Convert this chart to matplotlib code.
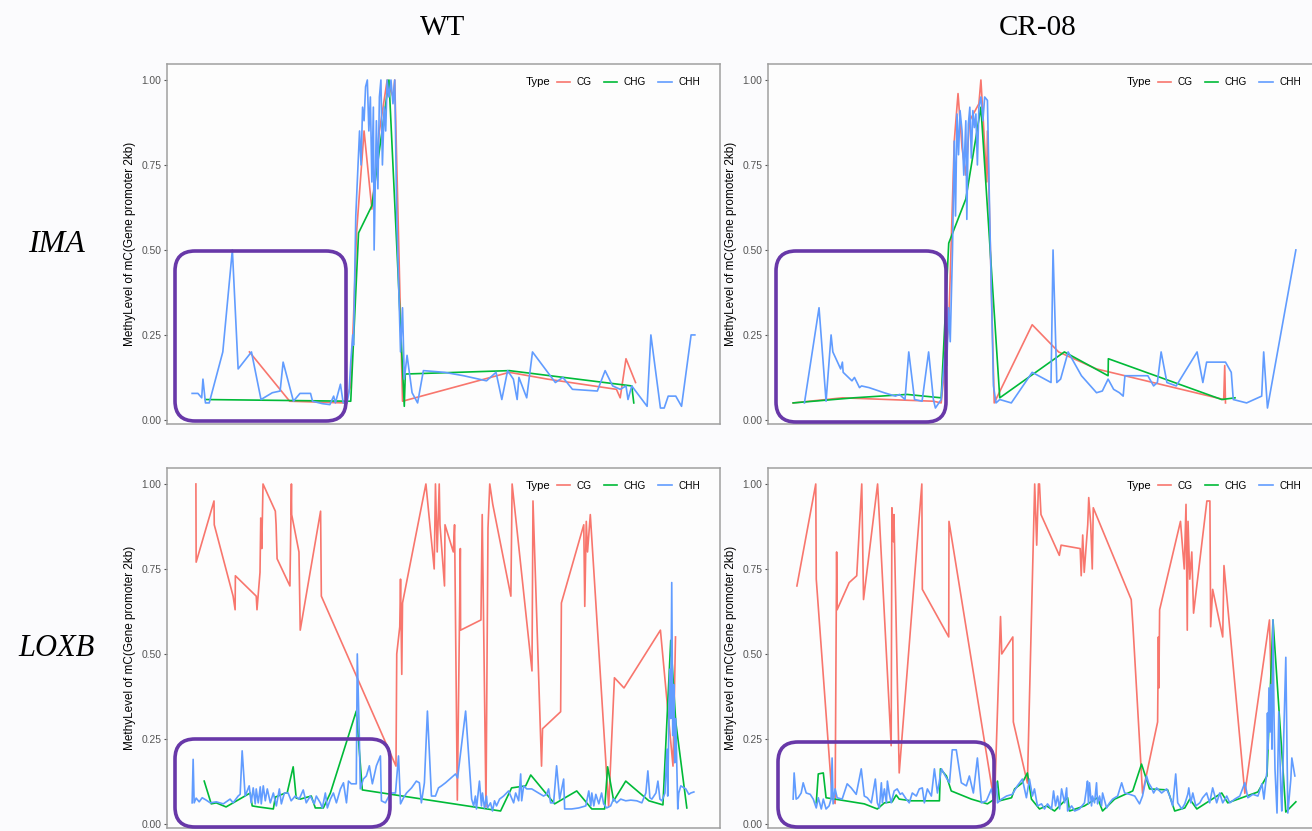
import matplotlib.pyplot as plt
from matplotlib.lines import Line2D
from matplotlib.patches import FancyBboxPatch

plt.rcParams['font.family'] = ['Liberation Sans', 'DejaVu Sans']

# methylation type colours (ggplot defaults)
types = ['CG', 'CHG', 'CHH']
type_colors = ['#F8766D', '#00BA38', '#619CFF']

# ---------------- IMA, WT ----------------
ima_wt_cg_x = [228, 388, 608, 631, 642, 654, 684, 715, 745, 776, 799, 806, 837, 1262, 1414, 1688, 1703, 1726, 1764]
ima_wt_cg_y = [0.20, 0.055, 0.05, 0.10, 0.30, 0.55, 0.85, 0.62, 0.85, 1.0, 0.95, 1.0, 0.055, 0.14, 0.12, 0.09, 0.065, 0.18, 0.11]
ima_wt_chg_x = [53, 631, 662, 715, 783, 844, 848, 1262, 1749, 1757]
ima_wt_chg_y = [0.06, 0.055, 0.55, 0.63, 1.0, 0.04, 0.135, 0.145, 0.10, 0.05]
ima_wt_chh_x = [0, 23, 38, 43, 53, 68, 122, 160, 183, 236, 274, 319, 350, 362, 403, 429, 471, 479, 517, 548,
                563, 570, 590, 601, 616, 624, 631, 639, 642, 651, 666, 672, 678, 684, 690, 697, 703, 709, 715, 721,
                724, 733, 739, 745, 751, 757, 764, 770, 776, 783, 791, 799, 806, 814, 829, 837, 844, 855, 875, 897,
                920, 1004, 1080, 1171, 1209, 1232, 1255, 1278, 1293, 1300, 1331, 1354, 1445, 1475, 1513, 1612, 1643, 1673, 1703, 1726,
                1734, 1749, 1810, 1825, 1863, 1878, 1894, 1924, 1947, 1985, 2000]
ima_wt_chh_y = [0.078, 0.078, 0.065, 0.12, 0.05, 0.05, 0.20, 0.50, 0.15, 0.20, 0.06, 0.08, 0.085, 0.17, 0.055, 0.078, 0.078, 0.055, 0.048, 0.045,
                0.07, 0.05, 0.105, 0.05, 0.05, 0.08, 0.17, 0.25, 0.22, 0.60, 0.85, 0.75, 0.92, 0.88, 0.98, 1.0, 0.85, 0.95, 0.70, 0.92,
                0.50, 0.88, 0.68, 0.95, 1.0, 0.75, 0.92, 0.85, 1.0, 0.95, 1.0, 0.93, 1.0, 0.60, 0.20, 0.33, 0.12, 0.19, 0.08, 0.05,
                0.145, 0.14, 0.13, 0.115, 0.14, 0.06, 0.145, 0.12, 0.06, 0.125, 0.065, 0.20, 0.11, 0.125, 0.09, 0.085, 0.145, 0.10, 0.09, 0.10,
                0.06, 0.10, 0.04, 0.25, 0.035, 0.035, 0.07, 0.07, 0.04, 0.25, 0.25]

# ---------------- IMA, CR-08 ----------------
ima_cr_cg_x = [0, 196, 558, 589, 619, 641, 656, 672, 687, 702, 739, 747, 755, 770, 773, 800, 951, 1056, 1207, 1713, 1717, 1720]
ima_cr_cg_y = [0.05, 0.065, 0.055, 0.05, 0.28, 0.82, 0.96, 0.80, 0.72, 0.88, 0.93, 1.0, 0.90, 0.70, 0.85, 0.05, 0.28, 0.20, 0.15, 0.06, 0.16, 0.05]
ima_cr_chg_x = [0, 241, 453, 589, 619, 687, 747, 822, 1079, 1253, 1254, 1705, 1758]
ima_cr_chg_y = [0.05, 0.065, 0.075, 0.065, 0.52, 0.65, 0.92, 0.065, 0.20, 0.13, 0.18, 0.06, 0.065]
ima_cr_chh_x = [45, 103, 131, 151, 158, 189, 196, 199, 234, 244, 264, 272, 302, 362, 407, 423, 445, 460, 483, 513,
                539, 558, 566, 589, 604, 611, 619, 625, 634, 641, 646, 652, 658, 664, 672, 679, 687, 691, 697, 703,
                709, 715, 721, 727, 733, 739, 747, 755, 762, 773, 782, 797, 807, 822, 868, 951, 1026, 1034, 1049, 1064,
                1094, 1147, 1207, 1230, 1253, 1275, 1298, 1313, 1320, 1373, 1411, 1434, 1449, 1464, 1487, 1524, 1607, 1630, 1645, 1720,
                1743, 1751, 1804, 1864, 1872, 1887, 2000]
ima_cr_chh_y = [0.05, 0.33, 0.055, 0.25, 0.20, 0.15, 0.17, 0.14, 0.115, 0.125, 0.095, 0.10, 0.095, 0.08, 0.07, 0.075, 0.06, 0.20, 0.06, 0.055,
                0.20, 0.06, 0.035, 0.06, 0.20, 0.16, 0.33, 0.23, 0.50, 0.82, 0.60, 0.90, 0.78, 0.91, 0.85, 0.72, 0.88, 0.59, 0.87, 0.92,
                0.77, 0.91, 0.86, 0.90, 0.75, 0.92, 0.95, 0.88, 0.95, 0.94, 0.60, 0.10, 0.05, 0.06, 0.05, 0.14, 0.11, 0.50, 0.11, 0.12,
                0.20, 0.13, 0.08, 0.085, 0.12, 0.09, 0.08, 0.07, 0.13, 0.13, 0.13, 0.10, 0.11, 0.20, 0.11, 0.10, 0.20, 0.11, 0.17, 0.17,
                0.14, 0.06, 0.05, 0.07, 0.20, 0.035, 0.50]

# ---------------- LOXB, WT ----------------
loxb_wt_cg_x = [15, 16, 87, 88, 163, 171, 172, 255, 258, 270, 273, 277, 282, 331, 334, 338, 389, 395, 396, 425,
                430, 511, 514, 811, 814, 826, 829, 834, 837, 930, 963, 968, 975, 983, 986, 1004, 1006, 1039, 1044, 1055,
                1067, 1068, 1149, 1154, 1169, 1177, 1184, 1196, 1268, 1273, 1352, 1356, 1390, 1394, 1466, 1469, 1558, 1562, 1568, 1573,
                1584, 1657, 1680, 1718, 1863, 1913, 1923]
loxb_wt_cg_y = [1.0, 0.77, 0.95, 0.88, 0.67, 0.63, 0.73, 0.67, 0.63, 0.74, 0.90, 0.81, 1.0, 0.92, 0.88, 0.78, 0.70, 1.0, 0.91, 0.80,
                0.57, 0.92, 0.67, 0.17, 0.50, 0.58, 0.72, 0.44, 0.65, 1.0, 0.75, 1.0, 0.80, 1.0, 0.88, 0.70, 0.88, 0.80, 0.88, 0.07,
                0.81, 0.57, 0.60, 0.91, 0.05, 0.87, 1.0, 0.94, 0.67, 1.0, 0.45, 0.95, 0.17, 0.28, 0.33, 0.65, 0.88, 0.64, 0.89, 0.80,
                0.91, 0.05, 0.43, 0.40, 0.57, 0.17, 0.55]
loxb_wt_chg_x = [48, 76, 96, 135, 231, 239, 263, 323, 331, 371, 378, 402, 414, 430, 474, 490, 522, 550, 653, 677,
                 1227, 1271, 1327, 1347, 1442, 1530, 1590, 1641, 1653, 1677, 1725, 1817, 1873, 1904, 1924, 1968]
loxb_wt_chg_y = [0.126, 0.059, 0.062, 0.05, 0.091, 0.053, 0.05, 0.044, 0.079, 0.091, 0.091, 0.168, 0.076, 0.073, 0.082, 0.047, 0.047, 0.091, 0.332, 0.10,
                 0.038, 0.106, 0.112, 0.144, 0.059, 0.097, 0.044, 0.044, 0.168, 0.068, 0.126, 0.068, 0.056, 0.54, 0.30, 0.047]
loxb_wt_chh_x = [0, 4, 8, 16, 28, 40, 56, 72, 96, 124, 151, 163, 183, 191, 199, 211, 227, 235, 243, 251,
                 255, 263, 271, 275, 283, 291, 299, 311, 323, 335, 347, 355, 367, 382, 394, 410, 426, 442, 454, 470,
                 486, 494, 510, 518, 530, 538, 550, 562, 574, 590, 602, 614, 622, 633, 645, 653, 657, 665, 669, 681,
                 693, 705, 717, 733, 749, 753, 769, 789, 809, 821, 829, 841, 853, 873, 892, 904, 912, 924, 936, 952,
                 968, 980, 992, 1008, 1048, 1056, 1088, 1112, 1120, 1127, 1131, 1143, 1151, 1155, 1163, 1171, 1175, 1187, 1195, 1203,
                 1211, 1223, 1239, 1259, 1279, 1287, 1299, 1307, 1311, 1319, 1331, 1351, 1378, 1398, 1410, 1418, 1426, 1438, 1450, 1462,
                 1470, 1478, 1482, 1510, 1538, 1566, 1578, 1586, 1590, 1598, 1606, 1618, 1629, 1637, 1649, 1665, 1677, 1689, 1705, 1725,
                 1745, 1769, 1789, 1805, 1813, 1821, 1829, 1845, 1853, 1861, 1869, 1881, 1889, 1892, 1900, 1904, 1908, 1912, 1916, 1920,
                 1924, 1932, 1936, 1944, 1964, 1976, 1984, 1996]
loxb_wt_chh_y = [0.062, 0.19, 0.062, 0.076, 0.065, 0.077, 0.07, 0.062, 0.065, 0.059, 0.073, 0.062, 0.082, 0.087, 0.215, 0.082, 0.112, 0.062, 0.106, 0.059,
                 0.103, 0.062, 0.109, 0.059, 0.112, 0.068, 0.103, 0.062, 0.091, 0.053, 0.103, 0.059, 0.091, 0.091, 0.068, 0.082, 0.073, 0.10, 0.062, 0.082,
                 0.059, 0.082, 0.062, 0.047, 0.091, 0.047, 0.073, 0.091, 0.062, 0.103, 0.121, 0.062, 0.126, 0.118, 0.118, 0.118, 0.50, 0.26, 0.103, 0.132,
                 0.141, 0.171, 0.118, 0.171, 0.20, 0.068, 0.062, 0.091, 0.091, 0.20, 0.059, 0.077, 0.091, 0.106, 0.126, 0.121, 0.062, 0.121, 0.332, 0.082,
                 0.082, 0.106, 0.112, 0.121, 0.147, 0.135, 0.332, 0.073, 0.053, 0.082, 0.044, 0.126, 0.053, 0.091, 0.047, 0.082, 0.047, 0.062, 0.038, 0.068,
                 0.053, 0.073, 0.082, 0.097, 0.062, 0.091, 0.068, 0.147, 0.068, 0.112, 0.103, 0.103, 0.091, 0.082, 0.087, 0.103, 0.062, 0.062, 0.171, 0.073,
                 0.103, 0.132, 0.044, 0.044, 0.047, 0.053, 0.097, 0.053, 0.091, 0.053, 0.087, 0.059, 0.091, 0.059, 0.047, 0.053, 0.074, 0.062, 0.073, 0.068,
                 0.07, 0.068, 0.062, 0.091, 0.156, 0.077, 0.073, 0.091, 0.126, 0.073, 0.068, 0.091, 0.22, 0.082, 0.455, 0.31, 0.71, 0.26, 0.41, 0.18,
                 0.31, 0.044, 0.091, 0.112, 0.103, 0.087, 0.091, 0.094]

# ---------------- LOXB, CR-08 ----------------
loxb_cr_cg_x = [15, 90, 92, 155, 167, 173, 175, 223, 253, 273, 280, 336, 390, 393, 399, 401, 422, 512, 514, 619,
                620, 801, 825, 830, 874, 876, 932, 961, 969, 976, 980, 986, 1059, 1066, 1142, 1146, 1152, 1158, 1172, 1176,
                1184, 1190, 1194, 1345, 1352, 1390, 1450, 1453, 1455, 1458, 1541, 1556, 1563, 1568, 1571, 1578, 1586, 1593, 1646, 1658,
                1661, 1669, 1709, 1714, 1797, 1895, 1902]
loxb_cr_cg_y = [0.70, 1.0, 0.72, 0.08, 0.06, 0.80, 0.63, 0.71, 0.73, 1.0, 0.66, 1.0, 0.23, 0.93, 0.83, 0.91, 0.15, 1.0, 0.69, 0.55,
                0.89, 0.06, 0.61, 0.50, 0.55, 0.30, 0.12, 1.0, 0.82, 1.0, 1.0, 0.91, 0.79, 0.82, 0.81, 0.73, 0.85, 0.74, 0.88, 0.96,
                0.88, 0.75, 0.93, 0.66, 0.58, 0.09, 0.30, 0.55, 0.40, 0.63, 0.89, 0.75, 0.94, 0.57, 0.89, 0.72, 0.80, 0.62, 0.95, 0.95,
                0.58, 0.69, 0.55, 0.76, 0.09, 0.60, 0.40]
loxb_cr_chg_x = [92, 100, 120, 131, 191, 283, 335, 363, 394, 410, 422, 470, 582, 586, 610, 629, 709, 773, 801, 813,
                 821, 869, 881, 912, 932, 948, 980, 1008, 1040, 1092, 1100, 1159, 1211, 1231, 1279, 1351, 1386, 1418, 1490, 1518,
                 1558, 1578, 1606, 1705, 1729, 1849, 1885, 1909, 1960, 2000]
loxb_cr_chg_y = [0.062, 0.147, 0.15, 0.077, 0.07, 0.059, 0.044, 0.062, 0.065, 0.085, 0.073, 0.068, 0.068, 0.162, 0.141, 0.097, 0.073, 0.059, 0.073, 0.126,
                 0.068, 0.077, 0.103, 0.121, 0.15, 0.073, 0.044, 0.053, 0.038, 0.077, 0.038, 0.053, 0.077, 0.038, 0.073, 0.097, 0.176, 0.103, 0.10, 0.038,
                 0.047, 0.073, 0.044, 0.091, 0.062, 0.094, 0.141, 0.60, 0.035, 0.065]
loxb_cr_chh_x = [0, 4, 12, 20, 32, 40, 52, 68, 80, 92, 100, 112, 120, 131, 143, 151, 155, 159, 167, 175,
                 195, 215, 231, 251, 271, 283, 295, 311, 327, 335, 343, 351, 355, 363, 371, 375, 382, 390, 402, 414,
                 426, 434, 450, 462, 474, 490, 502, 514, 522, 534, 550, 562, 574, 590, 610, 622, 633, 649, 669, 689,
                 701, 717, 733, 749, 769, 789, 797, 809, 813, 829, 849, 872, 892, 912, 928, 940, 952, 960, 972, 988,
                 1000, 1012, 1028, 1036, 1044, 1052, 1060, 1068, 1080, 1088, 1092, 1108, 1120, 1139, 1159, 1167, 1171, 1175, 1179, 1187,
                 1191, 1199, 1207, 1211, 1219, 1227, 1231, 1247, 1259, 1271, 1291, 1307, 1319, 1339, 1359, 1378, 1390, 1406, 1414, 1426,
                 1434, 1446, 1466, 1486, 1498, 1510, 1522, 1530, 1546, 1558, 1570, 1574, 1582, 1590, 1602, 1618, 1629, 1645, 1657, 1669,
                 1685, 1697, 1709, 1725, 1737, 1757, 1777, 1797, 1809, 1829, 1849, 1865, 1873, 1885, 1887, 1889, 1893, 1897, 1901, 1905,
                 1909, 1913, 1917, 1925, 1932, 1940, 1944, 1960, 1968, 1980, 1984, 1996]
loxb_cr_chh_y = [0.073, 0.15, 0.073, 0.077, 0.091, 0.121, 0.091, 0.087, 0.073, 0.047, 0.077, 0.044, 0.073, 0.044, 0.053, 0.073, 0.194, 0.059, 0.103, 0.077,
                 0.073, 0.118, 0.106, 0.087, 0.162, 0.082, 0.077, 0.062, 0.132, 0.062, 0.047, 0.121, 0.062, 0.103, 0.062, 0.126, 0.091, 0.062, 0.097, 0.103,
                 0.087, 0.091, 0.073, 0.062, 0.091, 0.082, 0.103, 0.106, 0.062, 0.103, 0.082, 0.162, 0.091, 0.162, 0.135, 0.121, 0.218, 0.218, 0.121, 0.112,
                 0.141, 0.091, 0.194, 0.062, 0.068, 0.103, 0.073, 0.121, 0.062, 0.073, 0.082, 0.087, 0.112, 0.132, 0.077, 0.132, 0.082, 0.103, 0.053, 0.059,
                 0.044, 0.059, 0.044, 0.097, 0.053, 0.082, 0.044, 0.103, 0.062, 0.106, 0.038, 0.053, 0.038, 0.044, 0.062, 0.103, 0.126, 0.059, 0.121, 0.053,
                 0.082, 0.062, 0.121, 0.059, 0.082, 0.053, 0.091, 0.047, 0.062, 0.073, 0.082, 0.121, 0.091, 0.087, 0.082, 0.059, 0.082, 0.141, 0.121, 0.106,
                 0.091, 0.106, 0.091, 0.103, 0.082, 0.053, 0.147, 0.062, 0.044, 0.059, 0.087, 0.106, 0.062, 0.091, 0.053, 0.062, 0.077, 0.091, 0.062, 0.106,
                 0.062, 0.091, 0.062, 0.082, 0.062, 0.073, 0.082, 0.121, 0.077, 0.087, 0.082, 0.118, 0.073, 0.156, 0.326, 0.22, 0.40, 0.27, 0.41, 0.22,
                 0.60, 0.32, 0.16, 0.032, 0.33, 0.103, 0.038, 0.49, 0.032, 0.132, 0.194, 0.141]

panels = {
    (0, 0): [(ima_wt_cg_x, ima_wt_cg_y), (ima_wt_chg_x, ima_wt_chg_y), (ima_wt_chh_x, ima_wt_chh_y)],
    (0, 1): [(ima_cr_cg_x, ima_cr_cg_y), (ima_cr_chg_x, ima_cr_chg_y), (ima_cr_chh_x, ima_cr_chh_y)],
    (1, 0): [(loxb_wt_cg_x, loxb_wt_cg_y), (loxb_wt_chg_x, loxb_wt_chg_y), (loxb_wt_chh_x, loxb_wt_chh_y)],
    (1, 1): [(loxb_cr_cg_x, loxb_cr_cg_y), (loxb_cr_chg_x, loxb_cr_chg_y), (loxb_cr_chh_x, loxb_cr_chh_y)],
}

W, H = 1312, 831
fig = plt.figure(figsize=(W / 100, H / 100), dpi=100, facecolor='#fbfbfd')

# panel boxes in pixels: left, top
panel_left = [167, 768]
panel_top = [64, 468]
pw, ph = 553, 360

for (r, c), series in panels.items():
    ax = fig.add_axes([panel_left[c] / W, 1 - (panel_top[r] + ph) / H, pw / W, ph / H])
    ax.set_facecolor('#fdfdfd')
    for (xs, ys), col in zip(series, type_colors):
        ax.plot(xs, ys, color=col, lw=1.2)
    ax.set_xlim(-100, 2100)
    ax.set_ylim(-0.012, 1.047)
    ax.set_xticks([])
    ax.set_yticks([0, 0.25, 0.5, 0.75, 1.0])
    ax.set_yticklabels(['0.00', '0.25', '0.50', '0.75', '1.00'])
    ax.tick_params(axis='y', length=2.5, width=0.8, color='#555555', labelcolor='#555555',
                   labelsize=7.4, pad=1.5)
    for sp in ax.spines.values():
        sp.set_color('#a0a0a0')
        sp.set_linewidth(1.1)
    ax.set_ylabel('MethyLevel of mC(Gene promoter 2kb)', fontsize=8.5)
    ax.yaxis.set_label_coords(-0.056, 0.5)

    # legend: "Type" title to the left of the keys
    ax.text(0.648, 0.95, 'Type', transform=ax.transAxes, ha='left', va='center', fontsize=8.2)
    handles = [Line2D([], [], color=col, lw=1.2) for col in type_colors]
    ax.legend(handles, types, loc='center left', bbox_to_anchor=(0.705, 0.95), ncol=3,
              frameon=False, fontsize=7.2, handlelength=1.35, handletextpad=0.65,
              columnspacing=1.2, borderpad=0, borderaxespad=0)

# column and row titles
serif = ['Liberation Serif', 'DejaVu Serif']
fig.text(443 / W, 1 - 28 / H, 'WT', ha='center', va='center', fontsize=21, family=serif)
fig.text(1038 / W, 1 - 28 / H, 'CR-08', ha='center', va='center', fontsize=21, family=serif)
fig.text(57 / W, 1 - 245 / H, 'IMA', ha='center', va='center', fontsize=23, style='italic', family=serif)
fig.text(56 / W, 1 - 648 / H, 'LOXB', ha='center', va='center', fontsize=22, style='italic', family=serif)

# purple highlight boxes (pixels: left, top, right, bottom)
boxes = [(175, 251, 346, 421), (776, 251, 946, 422), (175, 739, 390, 827), (778, 742, 994, 827)]
for x0, y0, x1, y1 in boxes:
    box = FancyBboxPatch((x0 / 100, (H - y1) / 100), (x1 - x0) / 100, (y1 - y0) / 100,
                         boxstyle='round,pad=0,rounding_size=0.2', transform=fig.dpi_scale_trans,
                         fill=False, edgecolor='#6838a8', lw=2.6, zorder=5)
    fig.add_artist(box)

fig.savefig('out.png', dpi=100, facecolor=fig.get_facecolor())
